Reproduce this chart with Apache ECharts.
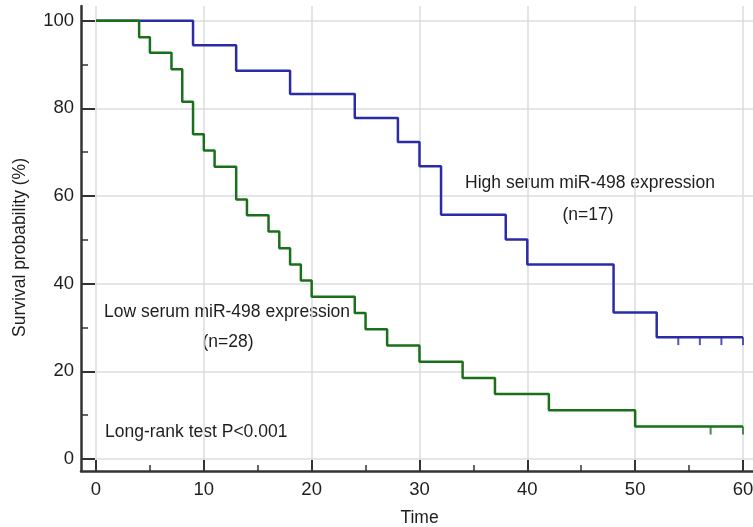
<!DOCTYPE html>
<html>
<head>
<meta charset="utf-8">
<script src="https://cdn.jsdelivr.net/npm/echarts@6/dist/echarts.min.js"></script>
<style>
  html, body { margin: 0; padding: 0; background: #fff; }
  #chart { width: 753px; height: 527px; }
</style>
</head>
<body>
<div id="chart"></div>
<script>
(function () {
  "use strict";
  const chart = echarts.init(document.getElementById("chart"));

  // Kaplan-Meier steps (time, survival %)
  const highTime = [0, 9, 13, 18, 24, 28, 30, 32, 38, 40, 48, 52, 60];
  const highSurv = [100, 94.4, 88.6, 83.3, 77.8, 72.3, 66.8, 55.7, 50.1, 44.4, 33.4, 27.8, 27.8];
  const highCensor = [54, 56, 58, 60];

  const lowTime = [0, 4, 5, 7, 8, 9, 10, 11, 13, 14, 16, 17, 18, 19, 20, 24, 25, 27, 30, 34, 37, 42, 50, 60];
  const lowSurv = [100, 96.2, 92.7, 88.9, 81.5, 74.1, 70.4, 66.7, 59.2, 55.6, 51.9, 48.1, 44.4, 40.7, 37.0, 33.3, 29.6, 25.9, 22.2, 18.5, 14.8, 11.1, 7.4, 7.4];
  const lowCensor = [57, 60];

  // axis ticks; the frame sits a little outside 0 on both axes
  const xMajor = [0, 10, 20, 30, 40, 50, 60];
  const xMinor = [5, 15, 25, 35, 45, 55];
  const yMajor = [0, 20, 40, 60, 80, 100];
  const yMinor = [10, 30, 50, 70, 90];
  const xRange = [-1.39, 60.93];
  const yRange = [-2.74, 103.35];

  const BLUE = "#2b2ba6";
  const GREEN = "#1a701a";
  const INK = "#333";
  const FONT = "Liberation Sans, Arial, sans-serif";
  const txt = { fontFamily: FONT, fontSize: 17.5, color: "#1e1e1e" };
  const tickTxt = { fontFamily: FONT, fontSize: 18.5, color: "#1e1e1e" };

  const pairs = (xs, ys) => xs.map((x, i) => [x, ys[i]]);
  const lastOf = a => a[a.length - 1];

  function censorSeries(times, level, color) {
    return {
      type: "scatter",
      data: times.map(t => [t, level]),
      symbol: "rect",
      symbolSize: [2, 8],
      symbolOffset: [0, 4],
      itemStyle: { color },
      silent: true,
      z: 3,
    };
  }

  const label = (text, x, y, align) => ({
    type: "text", x, y,
    style: { text, ...txt, fill: txt.color, align: align || "center", verticalAlign: "middle" },
  });

  const minorAxis = (range, values, len, pos) => ({
    type: "value",
    min: range[0], max: range[1],
    position: pos,
    axisLine: { show: false, onZero: false },
    axisTick: { show: true, inside: true, length: len, customValues: values, lineStyle: { color: INK, width: 1.5 } },
    axisLabel: { show: false },
    splitLine: { show: false },
  });

  chart.setOption({
    animation: false,
    grid: { left: 81, right: 0, top: 6, bottom: 56, outerBoundsMode: "none" },
    xAxis: [
      {
        type: "value",
        min: xRange[0], max: xRange[1],
        position: "bottom",
        name: "Time",
        nameLocation: "middle",
        nameGap: 38,
        nameTextStyle: { ...txt, padding: [0, 0, 0, 5] },
        axisLine: { onZero: false, lineStyle: { color: INK, width: 2.5 } },
        axisTick: { inside: true, length: 11, customValues: xMajor, lineStyle: { color: INK, width: 2 } },
        axisLabel: { ...tickTxt, margin: 9, customValues: xMajor },
        splitLine: { show: true, lineStyle: { color: "#dcdcdc", width: 1.5 } },
      },
      minorAxis(xRange, xMinor, 6, "bottom"),
    ],
    yAxis: [
      {
        type: "value",
        min: yRange[0], max: yRange[1],
        position: "left",
        name: "Survival probability (%)",
        nameLocation: "middle",
        nameGap: 52,
        nameTextStyle: { ...txt, padding: [0, 18, 0, 0] },
        axisLine: { show: true, onZero: false, lineStyle: { color: INK, width: 2.5 } },
        axisTick: { show: true, inside: true, length: 14, customValues: yMajor, lineStyle: { color: INK, width: 2 } },
        axisLabel: { ...tickTxt, margin: 7, customValues: yMajor },
        splitLine: { show: true, lineStyle: { color: "#dcdcdc", width: 1.5 } },
      },
      minorAxis(yRange, yMinor, 7, "left"),
    ],
    series: [
      {
        type: "line",
        step: "end",
        data: pairs(highTime, highSurv),
        showSymbol: false,
        lineStyle: { color: BLUE, width: 2.5 },
        z: 4,
      },
      {
        type: "line",
        step: "end",
        data: pairs(lowTime, lowSurv),
        showSymbol: false,
        lineStyle: { color: GREEN, width: 2.5 },
        z: 4,
      },
      censorSeries(highCensor, lastOf(highSurv), BLUE),
      censorSeries(lowCensor, lastOf(lowSurv), GREEN),
    ],
    graphic: [
      label("High serum miR-498 expression", 590, 183),
      label("(n=17)", 588, 215),
      label("Low serum miR-498 expression", 227, 312),
      label("(n=28)", 228, 342),
      label("Long-rank test P<0.001", 105, 432, "left"),
    ],
  });

  window.addEventListener("resize", () => chart.resize());
})();
</script>
</body>
</html>
